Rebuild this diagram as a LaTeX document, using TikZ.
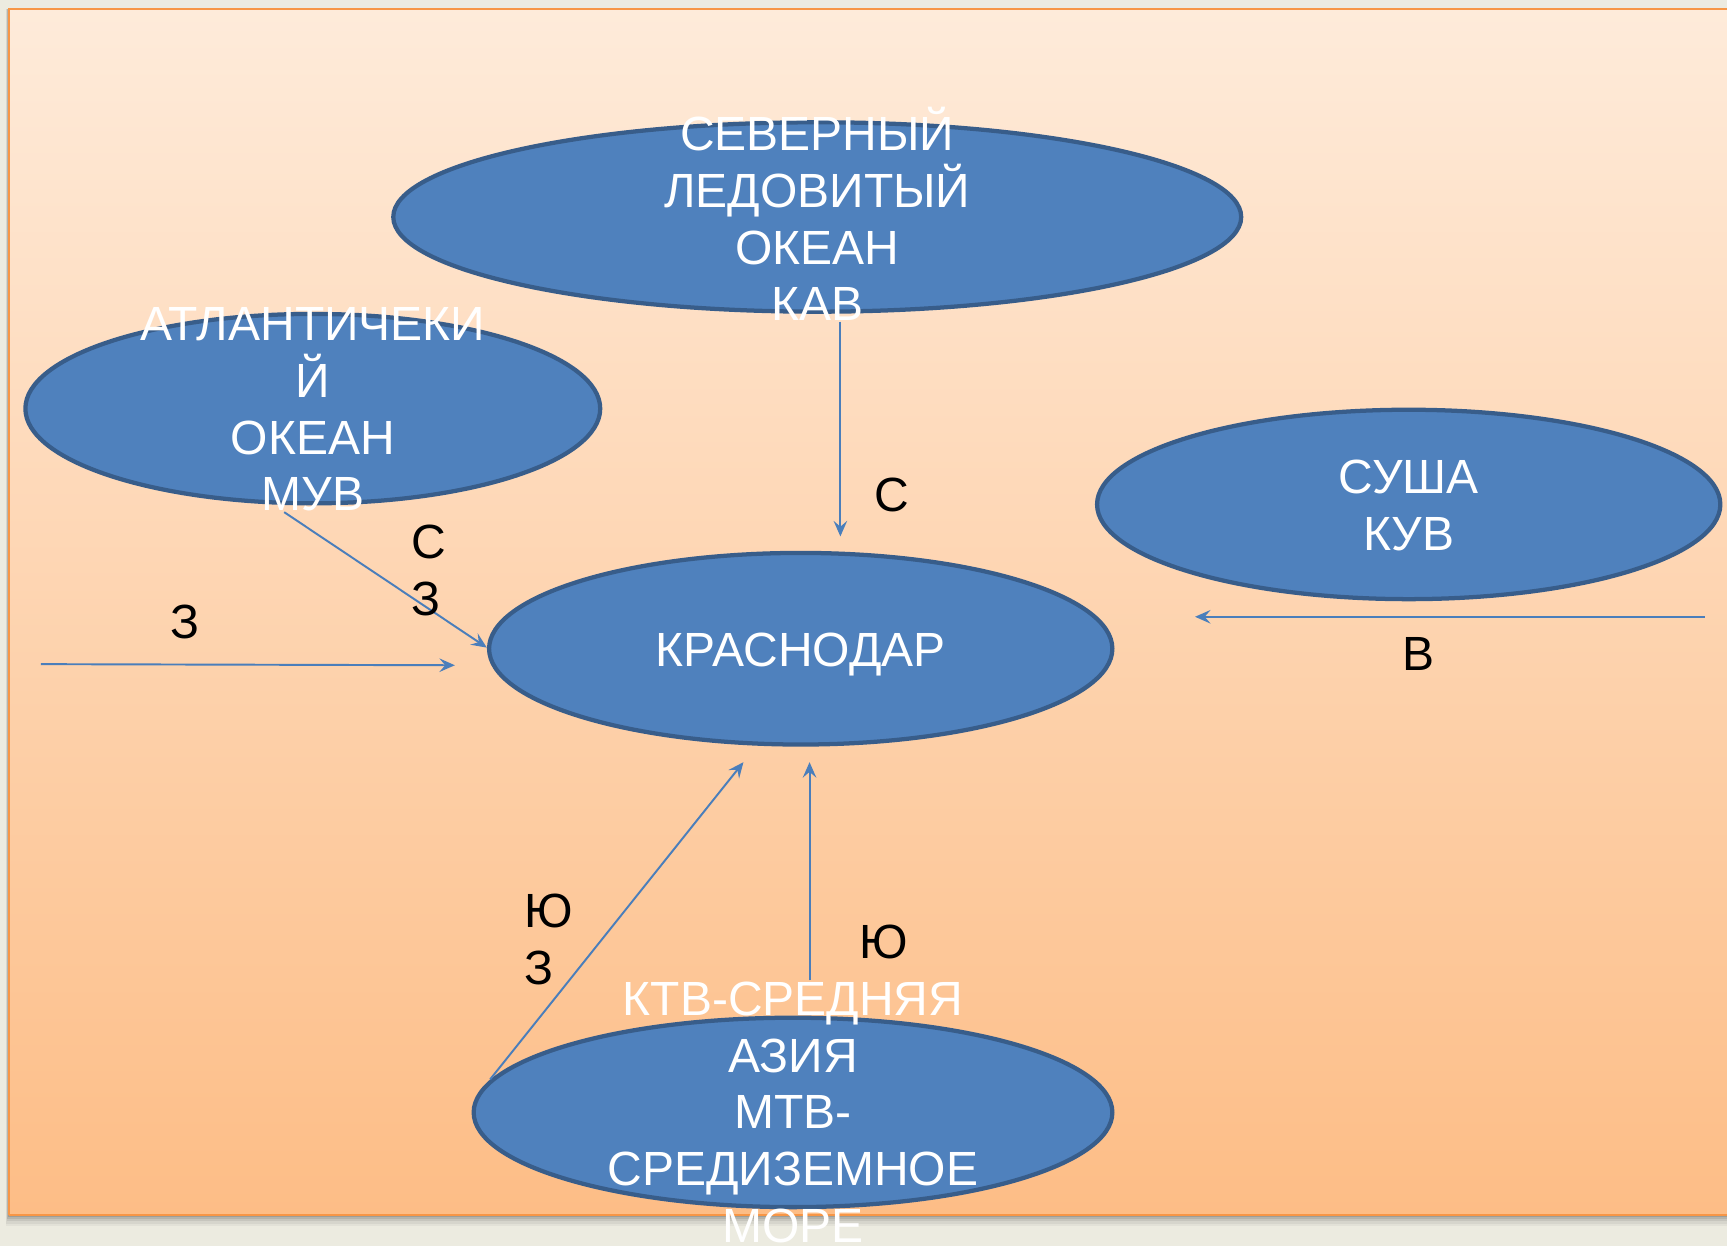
\documentclass[tikz,border=0pt]{standalone}
\usepackage{fontspec}
\setmainfont{Liberation Sans}
\usetikzlibrary{shapes.geometric,arrows.meta}
\definecolor{outbg}{HTML}{ECEBE0}
\definecolor{slidetop}{HTML}{FEEBDA}
\definecolor{slidebot}{HTML}{FDBD86}
\definecolor{slideedge}{HTML}{F79646}
\definecolor{blobfill}{HTML}{4F81BD}
\definecolor{blobedge}{HTML}{385D8A}
\definecolor{arrowcol}{HTML}{4A7EBB}
\tikzset{
  blob/.style={ellipse, fill=blobfill, draw=blobedge, line width=2.2pt, inner sep=0pt, outer sep=0pt},
  wtext/.style={text=white, align=center, inner sep=0pt, font=\fontsize{24.8}{29.3}\selectfont},
  btext/.style={text=black, align=left, inner sep=0pt, font=\fontsize{24.8}{29.3}\selectfont},
  conn/.style={draw=arrowcol, line width=1pt, -{Stealth[length=8pt,width=7pt,inset=3pt]}}
}
\begin{document}
\begin{tikzpicture}[x=0.02cm,y=-0.02cm]
\useasboundingbox (0,0) rectangle (1568,1131);
\fill[outbg] (0,0) rectangle (1568,1131);
% shadow
\foreach \d/\o in {10/0.04,8/0.05,6/0.07,4/0.09,2/0.12}{
  \fill[black,opacity=\o] (8-\d*0.3,8) rectangle (1580,1103+\d);
}
% slide
\shade[top color=slidetop, bottom color=slidebot] (8,8) rectangle (1580,1103);
\draw[slideedge, line width=1.3pt] (8,1103) -- (8,8) -- (1580,8);
\draw[slideedge, line width=1.3pt] (8,1103) -- (1580,1103);

% ellipses
\node[blob, minimum width=15.40cm, minimum height=3.44cm] (north) at (742,197) {};
\node[blob, minimum width=10.44cm, minimum height=3.44cm] (atl) at (284,371) {};
\node[blob, minimum width=11.32cm, minimum height=3.44cm] (land) at (1279,458) {};
\node[blob, minimum width=11.32cm, minimum height=3.48cm] (kras) at (727,589) {};
\node[blob, minimum width=11.60cm, minimum height=3.44cm] (south) at (720,1010) {};

% texts
\node[wtext] (tnorth) at ([yshift=1.5pt]north.center) {СЕВЕРНЫЙ\\ЛЕДОВИТЫЙ\\ОКЕАН\\КАВ};
\node[wtext] (tatl) at ([yshift=-0.5pt]atl.center) {АТЛАНТИЧЕКИ\\Й\\ОКЕАН\\МУВ};
\node[wtext] (tland) at ([yshift=-0.5pt]land.center) {СУША\\КУВ};
\node[wtext] (tkras) at ([yshift=-3pt]kras.center) {КРАСНОДАР};
\node[wtext] (tsouth) at (south.center) {КТВ-СРЕДНЯЯ\\АЗИЯ\\МТВ-\\СРЕДИЗЕМНОЕ\\МОРЕ};

% connector endpoints
\coordinate (n1) at (763,292);
\coordinate (n2) at (763,487);
\coordinate (a1) at (258,465);
\coordinate (a2) at (442,588);
\coordinate (w1) at (37,603);
\coordinate (w2) at (413,604);
\coordinate (e1) at (1548,560);
\coordinate (e2) at (1085,560);
\coordinate (sw1) at (445,980);
\coordinate (sw2) at (675,692);
\coordinate (s1) at (735,890);
\coordinate (s2) at (735,692);

\draw[conn] (n1) -- (n2);
\draw[conn] (a1) -- (a2);
\draw[conn] (w1) -- (w2);
\draw[conn] (e1) -- (e2);
\draw[conn] (sw1) -- (sw2);
\draw[conn] (s1) -- (s2);

% direction labels
\node[btext] (lN) at (810,449) {С};
\node[btext] (lNW) at (389,518) {С\\З};
\node[btext] (lW) at (168,565) {З};
\node[btext] (lE) at (1288,594) {В};
\node[btext] (lSW) at (498,853) {Ю\\З};
\node[btext] (lS) at (802,855) {Ю};
\end{tikzpicture}
\end{document}
